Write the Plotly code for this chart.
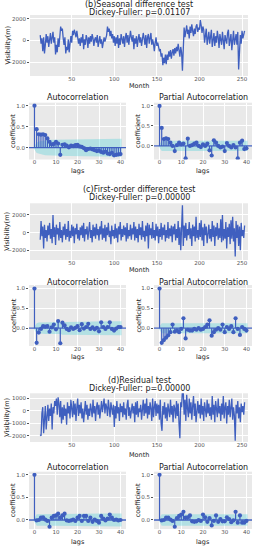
import plotly.graph_objects as go
import numpy as np

# ---------------- data ----------------
months = list(range(13, 254))

seasonal_diff = [
    500, -300, 200, -1000, 300, -1200, -400, 600,
    -200, 400, -600, 200, 700, -300, 500, 800, -200, 300,
    -1300, -400, -1100, 200, -600, 400, 1300, 900, 1100, 200,
    -400, 300, -1200, -600, -900, 100, -1100, -300, 400, -200,
    900, 500, 1000, 700, 300, 900, 400, -300, 200, -500,
    300, -200, 600, -800, 100, -400, 500, 200, -700, 300,
    -300, 400, -100, 600, 200, -500, 100, 300, -200, 500,
    -600, 200, 400, -300, 100, -700, -300, 300, -100, 200,
    500, 1300, 800, 1100, 400, 900, 200, 600, -200, 400,
    -500, 300, -300, 500, -700, 200, -400, 600, 100, -300,
    400, -600, 300, 700, -200, 500, -400, 200, 900, 300,
    -100, 500, -800, 200, -300, 400, -600, 100, 600, -200,
    300, -500, 100, 700, 200, -400, 500, -700, 300, 600,
    -300, 200, 700, -400, 100, -300, -1000, -200, 300, -500,
    -200, -600, -1000, -800, -1500, -1200, -2300, -1600, -2100, -1300,
    -2200, -1300, -1800, -1000, -1500, -900, -1700, -1100, -800, -1400,
    -700, -1200, -600, -1000, -300, -900, -1500, -600, -1100, -2800,
    400, 1200, 300, 900, 1400, 600, 1000, 200, 1300, 700,
    1500, 900, 400, 1100, 600, 1300, 1500, 800, 1200, 1000,
    1900, 1400, 700, 1300, 1000, -200, 600, 1100, -400, 300,
    800, -300, 500, 1000, -600, 200, 700, -500, 400, -200,
    900, 300, -700, 600, 100, -400, 800, 0, -800, 500,
    200, -300, 700, 1000, -500, 300, 600, -900, 200, 900,
    -400, 300, 600, -400, 800, -2700, -1000, 500, -300, 900,
    200, 600, 900,
]

first_diff = [
    -800, 1300, -400, 700, -1800, 900, -600, 300,
    -1000, 800, -300, 1100, -700, 400, -1200, 2000, -500, 600,
    -1400, 900, -200, 500, -900, 1200, -600, 300, -1100, 700,
    -300, 1000, -800, 400, -500, 1300, -1000, 200, -600, 900,
    -400, 700, -1200, 500, -200, 1000, -700, 300, -900, 600,
    -300, 800, -600, 1100, -1000, 400, -200, 700, -800, 500,
    1200, -600, 300, -1100, 900, -400, 600, -700, 1000, -300,
    400, -900, 700, -200, 1300, -800, 500, -600, 900, -1000,
    600, -300, 1100, -500, 200, -1300, 800, -400, 300, -700,
    1000, -600, 500, -1100, 700, -200, 1200, -900, 400, -500,
    800, -300, 600, -1000, 1100, -700, 300, -400, 900, -800,
    500, -200, 1200, -900, 700, -600, 400, -1100, 1000, -300,
    600, -800, 1300, -500, 200, -1000, 800, -400, 1100, -1800,
    900, -300, 500, -700, 1200, -600, 300, -900, 1000, -400,
    700, -1200, 400, -500, 1100, -800, 600, -300, 900, -1000,
    300, -600, 1200, -700, 500, -400, 800, -1100, 700, -200,
    1000, -900, 400, -600, 1300, -1400, 600, -2000, 500, 3100,
    -1500, 800, -600, 1100, -900, 400, -300, 1200, -700, 500,
    -1500, 900, -400, 700, -1000, 1800, -600, 300, -800, 1100,
    -500, 1400, -900, 600, -1500, 1000, -300, 700, -1200, 500,
    900, -700, 400, -1000, 1300, -500, 800, -1500, 600, -400,
    1100, -800, 500, -600, 1500, -1100, 2000, -900, 400, -700,
    1200, -1800, 600, -500, 1000, -1300, 1400, -700, 1800, -1000,
    500, -2700, 1300, -600, 900, -1500, 700, -2000, 1100, -400,
    300, -600, 800,
]

residual = [
    -1900, -2000, -200, 300, -1800, -600, 400, -1500,
    -300, 500, -800, 200, -400, 600, -1500, 300, -200, 800,
    400, 1000, -300, 1100, 600, -500, 800, -1000, 300, -700,
    500, -400, 200, -1100, 700, -200, 400, -600, 900, 100,
    -500, 800, -300, 600, -800, 300, 1000, -400, 500, -200,
    700, -600, 200, -900, 400, 800, -300, 500, -700, 200,
    -400, 600, 100, -500, 900, -200, 400, -800, 300, 700,
    -300, 500, -600, 200, 800, -100, 400, 1000, -200, 600,
    300, -400, 900, 200, -500, 700, 100, -300, 500, -1300,
    400, -600, 800, -200, 300, -800, 600, -100, 400, -500,
    700, -300, 200, -700, 500, 900, -400, 300, -600, 100,
    600, -200, 400, -900, 700, -300, 800, -500, 200, -100,
    500, -700, 300, 900, -400, 600, -200, 1000, -600, 400,
    -300, 700, 200, -800, 1000, -500, 300, 800, -400, 600,
    -200, 500, -700, 900, -1000, -1600, 400, -300, 700, -600,
    300, -800, 600, 100, -500, 900, -300, 400, -900, 500,
    200, -600, 800, -400, 600, -1000, -2200, 700, 300, 1700,
    1500, -300, 900, -800, 1300, 200, -500, 1000, -200, 700,
    -700, 400, 1200, -400, 600, -900, 300, 800, -200, 500,
    -600, 1000, -300, 400, -800, 700, 100, -500, 900, -200,
    600, -400, 300, -700, 1200, -300, 500, -900, 800, 200,
    -500, 1000, -200, 400, -800, 600, -300, 1200, -600, 300,
    700, -1000, 400, -300, 900, -500, 200, 1000, -700, 300,
    -400, -2400, 500, -200, 800, -600, 300, -900, 600, -100,
    400, -300, 700,
]

lags = list(range(41))

acf_b = [1.0, 0.44, 0.32, 0.31, 0.32, 0.30, 0.22, 0.14, 0.08, 0.09, 0.14,
         0.10, -0.17, 0.07, 0.08, 0.05, 0.01, 0.05, 0.04, 0.06, 0.07,
         0.03, 0.02, -0.01, -0.06, -0.03, -0.02, -0.04, -0.06, -0.08, -0.07,
         -0.10, -0.12, -0.09, -0.14, -0.15, -0.12, -0.18, -0.17, -0.16, -0.15]
pacf_b = [1.0, 0.45, 0.17, 0.19, 0.17, 0.08, 0.0, -0.13, 0.02, 0.08, 0.04,
          0.06, -0.31, 0.18, 0.0, 0.02, 0.06, 0.08, 0.0, -0.03, 0.04,
          0.0, 0.06, -0.11, -0.24, 0.14, 0.08, 0.0, -0.04, -0.02, -0.13,
          0.07, 0.0, -0.04, 0.02, -0.04, -0.31, 0.08, 0.13, -0.08, -0.06]

acf_c = [1.0, -0.37, -0.11, -0.02, 0.05, 0.04, 0.05, -0.09, 0.02, 0.09, -0.03,
         0.18, -0.38, 0.14, 0.07, -0.02, -0.05, 0.02, -0.02, 0.01, 0.05,
         -0.05, 0.10, -0.01, 0.03, 0.11, -0.02, 0.02, -0.03, 0.01, -0.08,
         0.15, 0.03, -0.02, 0.03, 0.15, -0.02, -0.06, -0.01, 0.03, 0.03]
pacf_c = [1.0, -0.37, -0.30, -0.24, -0.18, -0.10, 0.09, -0.09, -0.06, -0.10, -0.02,
          0.25, -0.26, -0.04, -0.06, -0.06, -0.02, -0.04, 0.0, -0.04, -0.02,
          0.03, 0.09, 0.20, -0.19, -0.10, -0.04, 0.0, -0.04, 0.09, -0.10,
          0.03, -0.02, 0.05, -0.10, 0.25, -0.02, -0.17, 0.03, -0.02, -0.06]

acf_d = [1.0, -0.01, 0.0, 0.05, 0.06, 0.01, -0.02, -0.15, 0.05, 0.09, 0.10,
         0.14, 0.05, 0.10, 0.14, -0.01, -0.02, -0.01, 0.01, -0.02, 0.05,
         0.09, -0.02, 0.09, 0.09, -0.02, 0.05, -0.04, 0.01, -0.02, -0.06,
         0.09, 0.03, -0.01, 0.03, 0.12, 0.05, 0.0, 0.01, -0.01, 0.0]
pacf_d = [1.0, -0.01, 0.0, 0.05, 0.05, 0.01, -0.02, -0.15, 0.04, 0.09, 0.12,
          0.18, 0.05, 0.06, 0.10, -0.03, -0.04, -0.03, 0.0, -0.02, 0.12,
          0.06, -0.04, 0.04, -0.12, -0.02, 0.10, -0.04, 0.02, -0.03, -0.03,
          0.06, 0.02, -0.05, -0.01, 0.18, -0.06, 0.10, -0.06, -0.06, -0.02]

nobs = 241

titles = ["(b)Seasonal difference test", "(c)First-order difference test", "(d)Residual test"]
pvalues = ["0.01107", "0.00000", "0.00000"]

# ---------------- style ----------------
W, H = 257, 550
LINE = "#3f5fbf"
BAND = "rgba(70,205,215,0.33)"
BG = "#e9e9e9"
FONT = "DejaVu Sans"
TICKC = "#555555"


def px_x(p):
    return p / W


def px_y(p):
    return 1 - p / H


fig = go.Figure()
layout = dict(width=W, height=H, margin=dict(l=0, r=0, t=0, b=0), autosize=False,
              paper_bgcolor="white", plot_bgcolor=BG, showlegend=False,
              font=dict(family=FONT, color="#222222"))

ts_sets = [
    (seasonal_diff, (15, 76), [-3300, 2370], [-2000, 0, 2000], 86, (4.5, 12)),
    (first_diff, (203.3, 260), [-3100, 3320], [-2000, 0, 2000], 270, (189, 197.7)),
    (residual, (393.3, 442), [-2500, 1420], [-2000, -1000, 0, 1000], 455, (380, 388.3)),
]
corr_sets = [
    (acf_b, pacf_b, (102.7, 159.5), [-0.28, 1.07], [-0.34, 1.08], 97.3, 171.5),
    (acf_c, pacf_c, (285, 346), [-0.45, 1.09], [-0.45, 1.09], 282, 356.5),
    (acf_d, pacf_d, (471.7, 529), [-0.2, 1.07], [-0.2, 1.07], 467.3, 541.5),
]

annotations = []
shapes = []
axis_common = dict(showgrid=True, gridcolor="white", gridwidth=1, zeroline=False,
                   showline=False, tickfont=dict(size=5.5, color=TICKC, family=FONT))

TS_X = (30, 248)
ACF_X = (29, 126)
PACF_X = (154, 252)
idx = 1


def add_axes(i, xdom, ydom, xr, yr, xt, yt, ytext=None):
    xa = "xaxis" if i == 1 else f"xaxis{i}"
    ya = "yaxis" if i == 1 else f"yaxis{i}"
    layout[xa] = dict(axis_common, domain=[px_x(xdom[0]), px_x(xdom[1])],
                      range=xr, tickvals=xt, anchor=f"y{i}" if i > 1 else "y",
                      ticks="", ticklabelstandoff=-2)
    yd = dict(axis_common, domain=[px_y(ydom[1]), px_y(ydom[0])],
              range=yr, tickvals=yt, anchor=f"x{i}" if i > 1 else "x",
              ticks="outside", ticklen=2, tickcolor=TICKC)
    if ytext is not None:
        yd["ticktext"] = ytext
    layout[ya] = yd


def ann(text, x, y, size, angle=0, color="#222222"):
    annotations.append(dict(text=text, x=px_x(x), y=px_y(y), xref="paper", yref="paper",
                            showarrow=False, xanchor="center", yanchor="middle",
                            textangle=angle, font=dict(size=size, family=FONT, color=color)))


for k in range(3):
    series, ydom, yr, yt, month_y, (t1, t2) = ts_sets[k]
    acf, pacf, cdom, ar, pr, ctitle_y, lags_y = corr_sets[k]

    # time series
    add_axes(idx, TS_X, ydom, [1, 257], yr, [50, 100, 150, 200, 250], yt)
    ref = "" if idx == 1 else str(idx)
    fig.add_trace(go.Scatter(x=months, y=series, mode="lines",
                             line=dict(color=LINE, width=1.3),
                             xaxis="x" + ref, yaxis="y" + ref))
    ann(titles[k], (TS_X[0] + TS_X[1]) / 2, t1, 8)
    ann("Dickey-Fuller: p=" + pvalues[k], (TS_X[0] + TS_X[1]) / 2, t2, 8)
    ann("Month", (TS_X[0] + TS_X[1]) / 2, month_y, 6.5)
    ann("Visibility(m)", 7, (ydom[0] + ydom[1]) / 2, 6.5, angle=-90)
    idx += 1

    # acf / pacf
    for j, (vals, xdom, yrng, name) in enumerate([
            (acf, ACF_X, ar, "Autocorrelation"),
            (pacf, PACF_X, pr, "Partial Autocorrelation")]):
        add_axes(idx, xdom, cdom, [-2.55, 42.55], yrng, [0, 10, 20, 30, 40],
                 [0.0, 0.5, 1.0], ["0.0", "0.5", "1.0"])
        ref = str(idx)
        # confidence band (Bartlett for ACF, 1/sqrt(n) for PACF)
        if j == 0:
            band = [0.0]
            s = 0.0
            for kk in range(1, len(vals)):
                band.append(1.96 * np.sqrt((1 + 2 * s) / nobs))
                s += vals[kk] ** 2
        else:
            band = [0.0] + [1.96 / np.sqrt(nobs)] * (len(vals) - 1)
        bx = [float(l) for l in lags]
        bx[0] -= 0.5
        bx[-1] += 0.5
        fig.add_trace(go.Scatter(x=bx + bx[::-1], y=list(band) + [-b for b in band[::-1]],
                                 fill="toself", fillcolor=BAND, mode="lines",
                                 line=dict(width=0), hoverinfo="skip",
                                 xaxis="x" + ref, yaxis="y" + ref))
        # stems
        sx, sy = [], []
        for l, v in zip(lags, vals):
            sx += [l, l, None]
            sy += [0, v, None]
        fig.add_trace(go.Scatter(x=sx, y=sy, mode="lines", line=dict(color=LINE, width=1.2),
                                 xaxis="x" + ref, yaxis="y" + ref))
        fig.add_trace(go.Scatter(x=lags, y=vals, mode="markers",
                                 marker=dict(color=LINE, size=4.2),
                                 xaxis="x" + ref, yaxis="y" + ref))
        shapes.append(dict(type="line", xref=f"x{idx} domain", yref=f"y{idx}",
                           x0=0, x1=1, y0=0, y1=0, line=dict(color=LINE, width=1.3)))
        cx = (xdom[0] + xdom[1]) / 2
        ann(name, cx, ctitle_y, 8)
        ann("lags", cx, lags_y, 6.5)
        ann("coefficient", xdom[0] - 16, (cdom[0] + cdom[1]) / 2, 6.5, angle=-90)
        idx += 1

layout["annotations"] = annotations
layout["shapes"] = shapes
fig.update_layout(**layout)
fig.write_html("out.html", config={"displayModeBar": False},
               post_script="document.body.style.margin='0';document.body.style.padding='0';")
